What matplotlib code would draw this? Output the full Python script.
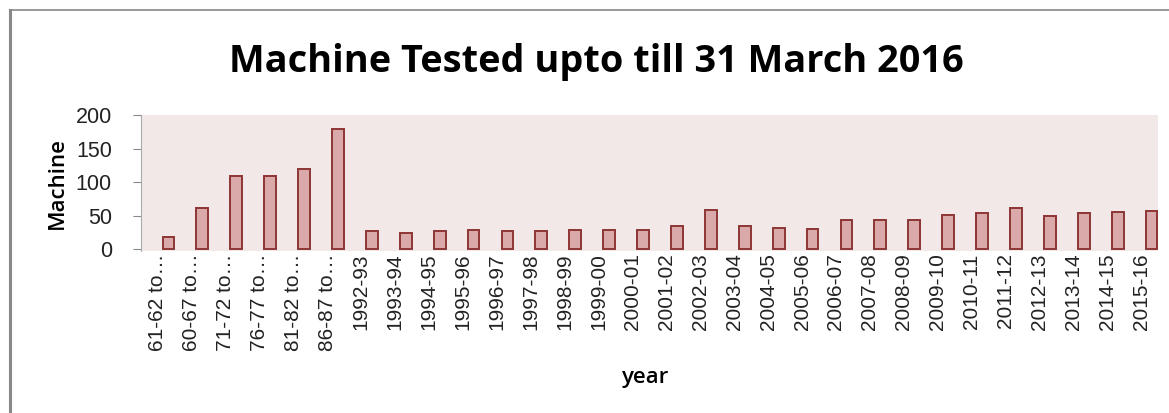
import matplotlib
matplotlib.use('Agg')
import matplotlib.pyplot as plt
from matplotlib.lines import Line2D
import numpy as np

# data
years = ['61-62 to\u2026', '60-67 to\u2026', '71-72 to\u2026', '76-77 to\u2026', '81-82 to\u2026', '86-87 to\u2026',
         '1992-93', '1993-94', '1994-95', '1995-96', '1996-97', '1997-98', '1998-99', '1999-00',
         '2000-01', '2001-02', '2002-03', '2003-04', '2004-05', '2005-06', '2006-07', '2007-08',
         '2008-09', '2009-10', '2010-11', '2011-12', '2012-13', '2013-14', '2014-15', '2015-16']
machines = [18, 61, 110, 110, 120, 180,
            27, 24, 27, 28, 27, 27, 28, 28,
            28, 34, 59, 34, 31, 30, 43, 43,
            43, 51, 54, 61, 49, 54, 55, 57]
yticks = [0, 50, 100, 150, 200]

W, H = 1169, 413
fig = plt.figure(figsize=(W / 100, H / 100), dpi=100)
ax = fig.add_axes([141 / W, 1 - 250.7 / H, (1158 - 141) / W, (250.7 - 115.5) / H])
ax.set_facecolor('#F2E8E8')

x = np.arange(len(years))
ax.bar(x + 0.31, machines, width=0.35, color='#DAAAAA', edgecolor='#8E3535', linewidth=1.4, zorder=3)

ax.set_xlim(-0.5, len(years) - 0.5)
ax.set_ylim(-2.5, 200)
ax.set_yticks(yticks)
ax.set_yticklabels([str(v) for v in yticks], fontsize=15.5, family='Liberation Sans', color='#222222')
ax.set_xticks(x)
ax.set_xticklabels(years, rotation=90, fontsize=15, family='Liberation Sans', color='#222222')
ax.tick_params(axis='x', length=0, pad=2)
ax.tick_params(axis='y', length=6, color='#888888', pad=15)

for side in ['top', 'right', 'bottom']:
    ax.spines[side].set_visible(False)
ax.spines['left'].set_color('#AAAAAA')
ax.spines['left'].set_linewidth(0.8)

fig.text(596 / W, 1 - 72 / H, 'Machine Tested upto till 31 March 2016',
         ha='center', va='baseline', fontsize=27.3, fontweight='bold', family='Open Sans')
fig.text(57 / W, 1 - 183 / H, 'Machine', rotation=90, ha='center', va='center',
         fontsize=16, fontweight='semibold', family='Open Sans')
fig.text(646 / W, 1 - 378 / H, 'year', ha='center', va='center',
         fontsize=16, fontweight='semibold', family='Open Sans')

# chart frame (top and left edges visible)
fig.add_artist(Line2D([9.5 / W, 1], [1 - 10 / H, 1 - 10 / H], color='#888888', linewidth=1.2))
fig.add_artist(Line2D([9.5 / W, 9.5 / W], [0, 1 - 10 / H], color='#888888', linewidth=2.2))

fig.savefig('out.png', dpi=100)
